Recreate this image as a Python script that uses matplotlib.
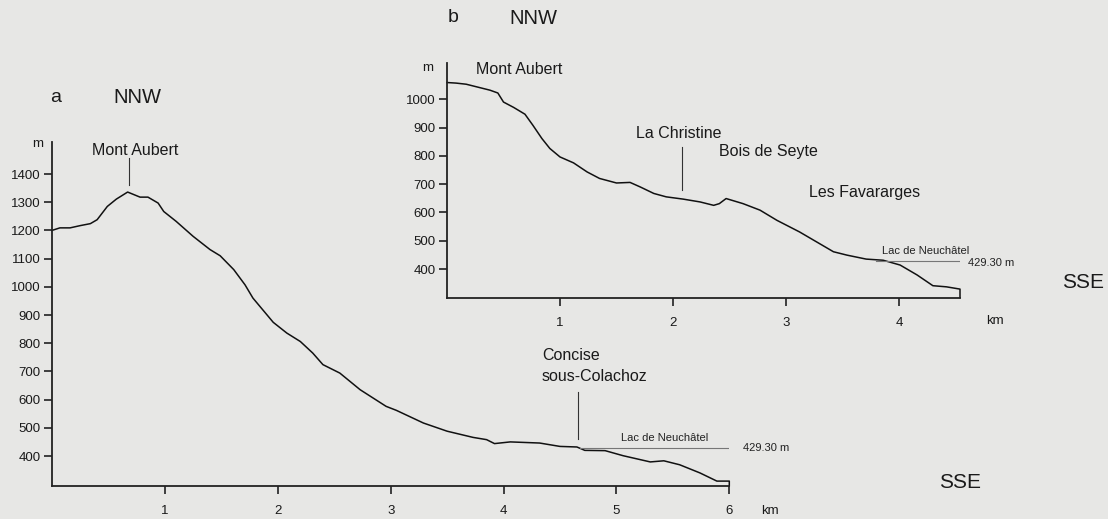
import matplotlib
matplotlib.use("Agg")
import matplotlib.pyplot as plt

plt.rcParams['font.family'] = ['Liberation Sans', 'DejaVu Sans']

# ---------------- data: profile a (km, m) ----------------
dist_a = [0.0, 0.07, 0.16, 0.25, 0.34, 0.40, 0.49, 0.57, 0.67, 0.78, 0.85, 0.94, 0.99,
          1.10, 1.25, 1.40, 1.49, 1.61, 1.71, 1.78, 1.96, 2.08, 2.20, 2.31, 2.40, 2.55,
          2.73, 2.96, 3.05, 3.29, 3.50, 3.73, 3.85, 3.92, 4.06, 4.32, 4.50, 4.65, 4.72,
          4.90, 5.06, 5.30, 5.42, 5.56, 5.74, 5.89, 6.0, 6.0]
elev_a = [1200, 1209, 1209, 1217, 1224, 1238, 1285, 1311, 1336, 1318, 1318, 1297, 1267,
          1232, 1179, 1132, 1110, 1061, 1007, 960, 874, 836, 806, 765, 724, 694,
          635, 576, 562, 517, 488, 466, 458, 444, 450, 446, 434, 432, 420,
          419, 401, 379, 383, 369, 340, 311, 311, 295]

# ---------------- data: profile b (km, m) ----------------
dist_b = [0.0, 0.08, 0.17, 0.29, 0.38, 0.45, 0.50, 0.59, 0.69, 0.76, 0.84, 0.91, 1.00,
          1.12, 1.24, 1.35, 1.50, 1.62, 1.71, 1.83, 1.94, 2.09, 2.24, 2.36, 2.41, 2.47,
          2.62, 2.77, 2.92, 3.12, 3.27, 3.42, 3.54, 3.71, 3.86, 4.01, 4.16, 4.30, 4.42,
          4.54, 4.54]
elev_b = [1059, 1057, 1053, 1041, 1032, 1022, 990, 971, 947, 908, 861, 826, 796,
          775, 743, 720, 704, 706, 690, 667, 655, 647, 637, 625, 631, 649,
          631, 608, 572, 531, 496, 461, 449, 435, 431, 414, 379, 341, 337,
          329, 299]

yticks_a = [400, 500, 600, 700, 800, 900, 1000, 1100, 1200, 1300, 1400]
xticks_a = [1, 2, 3, 4, 5, 6]
yticks_b = [400, 500, 600, 700, 800, 900, 1000]
xticks_b = [1, 2, 3, 4]

lake_level = 429.30

W, H = 1108, 519
fig = plt.figure(figsize=(W / 100, H / 100), dpi=100)
bg = '#e7e7e5'
fig.patch.set_facecolor(bg)

def axes_px(left, right, top, bottom):
    return fig.add_axes([left / W, 1 - bottom / H, (right - left) / W, (bottom - top) / H])

def style(ax):
    ax.set_facecolor('none')
    for s in ['top', 'right']:
        ax.spines[s].set_visible(False)
    for s in ['left', 'bottom']:
        ax.spines[s].set_linewidth(1.3)
        ax.spines[s].set_color('#222222')
    ax.tick_params(axis='both', direction='out', length=6, width=1.2, color='#222222',
                   labelsize=9.5, labelcolor='#1a1a1a')
    ax.tick_params(axis='x', pad=8)
    ax.tick_params(axis='y', pad=2)

# ---------------- panel a ----------------
axa = axes_px(52, 729.3, 142, 485.7)
style(axa)
axa.set_xlim(0, 6)
axa.set_ylim(294.7, 1513.5)
axa.plot(dist_a, elev_a, color='#111111', lw=1.1, clip_on=False)
axa.set_yticks(yticks_a)
axa.set_xticks(xticks_a)
axa.plot([4.68, 6.02], [lake_level, lake_level], color='#777777', lw=0.8)
axa.text(5.43, 445, 'Lac de Neuchâtel', fontsize=8, ha='center', va='bottom', color='#222222')
axa.text(6.12, lake_level, '429.30 m', fontsize=8, ha='left', va='center', color='#222222')
axa.plot([4.66, 4.66], [460, 627], color='#333333', lw=0.8)
axa.text(4.34, 655, 'Concise\nsous-Colachoz', fontsize=11.5, ha='left', va='bottom',
         linespacing=1.5, color='#1a1a1a')
axa.plot([0.68, 0.68], [1362, 1458], color='#333333', lw=0.8)
axa.text(0.74, 1485, 'Mont Aubert', fontsize=11.5, ha='center', va='center', color='#1a1a1a')

fig.text(50 / W, 1 - 98 / H, 'a', fontsize=14, ha='left', va='center', color='#1a1a1a')
fig.text(137 / W, 1 - 98 / H, 'NNW', fontsize=14.5, ha='center', va='center', color='#1a1a1a')
fig.text(38 / W, 1 - 144 / H, 'm', fontsize=9.5, ha='center', va='center', color='#1a1a1a')
fig.text(960 / W, 1 - 483 / H, 'SSE', fontsize=15, ha='center', va='center', color='#1a1a1a')
fig.text(770 / W, 1 - 511 / H, 'km', fontsize=9.5, ha='center', va='center', color='#1a1a1a')

# ---------------- panel b ----------------
axb = axes_px(447, 960, 63, 297.7)
style(axb)
axb.set_xlim(0, 4.54)
axb.set_ylim(298.6, 1128)
axb.plot(dist_b, elev_b, color='#111111', lw=1.1, clip_on=False)
axb.set_yticks(yticks_b)
axb.set_xticks(xticks_b)
axb.plot([3.80, 4.54], [lake_level, lake_level], color='#777777', lw=0.8)
axb.text(4.24, 445, 'Lac de Neuchâtel', fontsize=8, ha='center', va='bottom', color='#222222')
axb.text(4.61, 420, '429.30 m', fontsize=8, ha='left', va='center', color='#222222')
axb.plot([2.08, 2.08], [678, 831], color='#333333', lw=0.8)
axb.text(2.05, 880, 'La Christine', fontsize=11.5, ha='center', va='center', color='#1a1a1a')
axb.text(2.41, 815, 'Bois de Seyte', fontsize=11.5, ha='left', va='center', color='#1a1a1a')
axb.text(3.2, 672, 'Les Favararges', fontsize=11.5, ha='left', va='center', color='#1a1a1a')
axb.text(0.26, 1104, 'Mont Aubert', fontsize=11.5, ha='left', va='center', color='#1a1a1a')

fig.text(453 / W, 1 - 18 / H, 'b', fontsize=14, ha='center', va='center', color='#1a1a1a')
fig.text(533 / W, 1 - 18 / H, 'NNW', fontsize=14.5, ha='center', va='center', color='#1a1a1a')
fig.text(428 / W, 1 - 68 / H, 'm', fontsize=9.5, ha='center', va='center', color='#1a1a1a')
fig.text(1083 / W, 1 - 283 / H, 'SSE', fontsize=15, ha='center', va='center', color='#1a1a1a')
fig.text(995 / W, 1 - 321 / H, 'km', fontsize=9.5, ha='center', va='center', color='#1a1a1a')

fig.savefig('out.png', dpi=100, facecolor=fig.get_facecolor())
